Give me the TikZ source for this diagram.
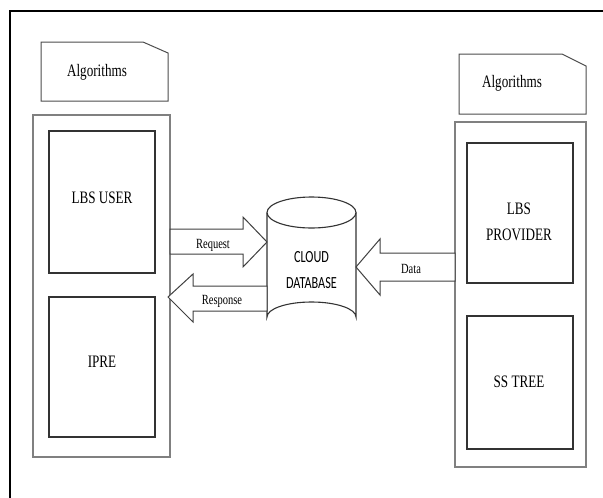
\documentclass[tikz,border=0pt]{standalone}
\usepackage{fontspec}
\setmainfont{Liberation Serif}
\newfontfamily\carfont{Carlito}
\newcommand{\sqz}[2][0.75]{\scalebox{#1}[1]{#2}}
\begin{document}
\begin{tikzpicture}[x=1pt,y=-1pt,
  frame/.style={line width=2.4pt,black},
  outerbox/.style={draw=black!50,line width=1.5pt},
  innerbox/.style={draw=black!80,line width=1.1pt},
  notebox/.style={draw=black!70,line width=1pt},
  blockarrow/.style={draw=black!75,line width=1pt,fill=white,line join=miter},
  bigtxt/.style={font=\fontsize{17.5}{21}\selectfont,inner sep=0pt},
  smalltxt/.style={font=\fontsize{14}{16}\selectfont,inner sep=0pt},
  dbtxt/.style={font=\carfont\fontsize{17}{26}\selectfont,inner sep=0pt}]
\useasboundingbox (0,0) rectangle (603,498);
% frame
\draw[frame] (10,499) -- (10,11) -- (604,11);
% left side
\draw[notebox] (41,42) -- (143,42) -- (168,53) -- (168,101) -- (41,101) -- cycle;
\node[bigtxt] (lalg) at (97,72) {\sqz{Algorithms}};
\draw[outerbox] (33,115) rectangle (170,457);
\node[innerbox,minimum width=106pt,minimum height=142pt,inner sep=0pt] (luser) at (102,202) {};
\node[bigtxt] (lusert) at (102,198) {\sqz{LBS USER}};
\node[innerbox,minimum width=106pt,minimum height=140pt,inner sep=0pt] (ipre) at (102,367) {};
\node[bigtxt] (ipret) at (102,362) {\sqz{IPRE}};
% right side
\draw[notebox] (459,54) -- (562,54) -- (586,66) -- (586,114) -- (459,114) -- cycle;
\node[bigtxt] (ralg) at (512,83) {\sqz{Algorithms}};
\draw[outerbox] (455,122) rectangle (586,467);
\node[innerbox,minimum width=106pt,minimum height=140pt,inner sep=0pt] (prov) at (520,213) {};
\node[bigtxt] (provt1) at (519,209) {\sqz{LBS}};
\node[bigtxt] (provt2) at (519,235) {\sqz{PROVIDER}};
\node[innerbox,minimum width=106pt,minimum height=133pt,inner sep=0pt] (sstree) at (520,382.5) {};
\node[bigtxt] (sstreet) at (519,382) {\sqz{SS TREE}};
% cylinder
\draw[innerbox,fill=white] (267,212.5) -- (267,317) arc[start angle=180,end angle=360,x radius=44.5pt,y radius=-15pt] -- (356,212.5);
\draw[innerbox] (311.5,212.5) ellipse[x radius=44.5pt,y radius=15.5pt];
\node[dbtxt] (db1) at (311.5,257.5) {\sqz[0.72]{CLOUD}};
\node[dbtxt] (db2) at (311.5,283.5) {\sqz[0.72]{DATABASE}};
% arrows
\draw[blockarrow] (170,229) -- (243,229) -- (243,217) -- (267,242) -- (243,267) -- (243,254) -- (170,254) -- cycle;
\node[smalltxt] (req) at (213,245) {\sqz{Request}};
\draw[blockarrow] (168,297) -- (193,274) -- (193,286) -- (267,286) -- (267,311) -- (193,311) -- (193,322) -- cycle;
\node[smalltxt] (resp) at (222,301) {\sqz{Response}};
\draw[blockarrow] (356,267) -- (380,239) -- (380,253) -- (455,253) -- (455,281) -- (380,281) -- (380,295) -- cycle;
\node[smalltxt] (data) at (411,269) {\sqz{Data}};
\end{tikzpicture}
\end{document}
